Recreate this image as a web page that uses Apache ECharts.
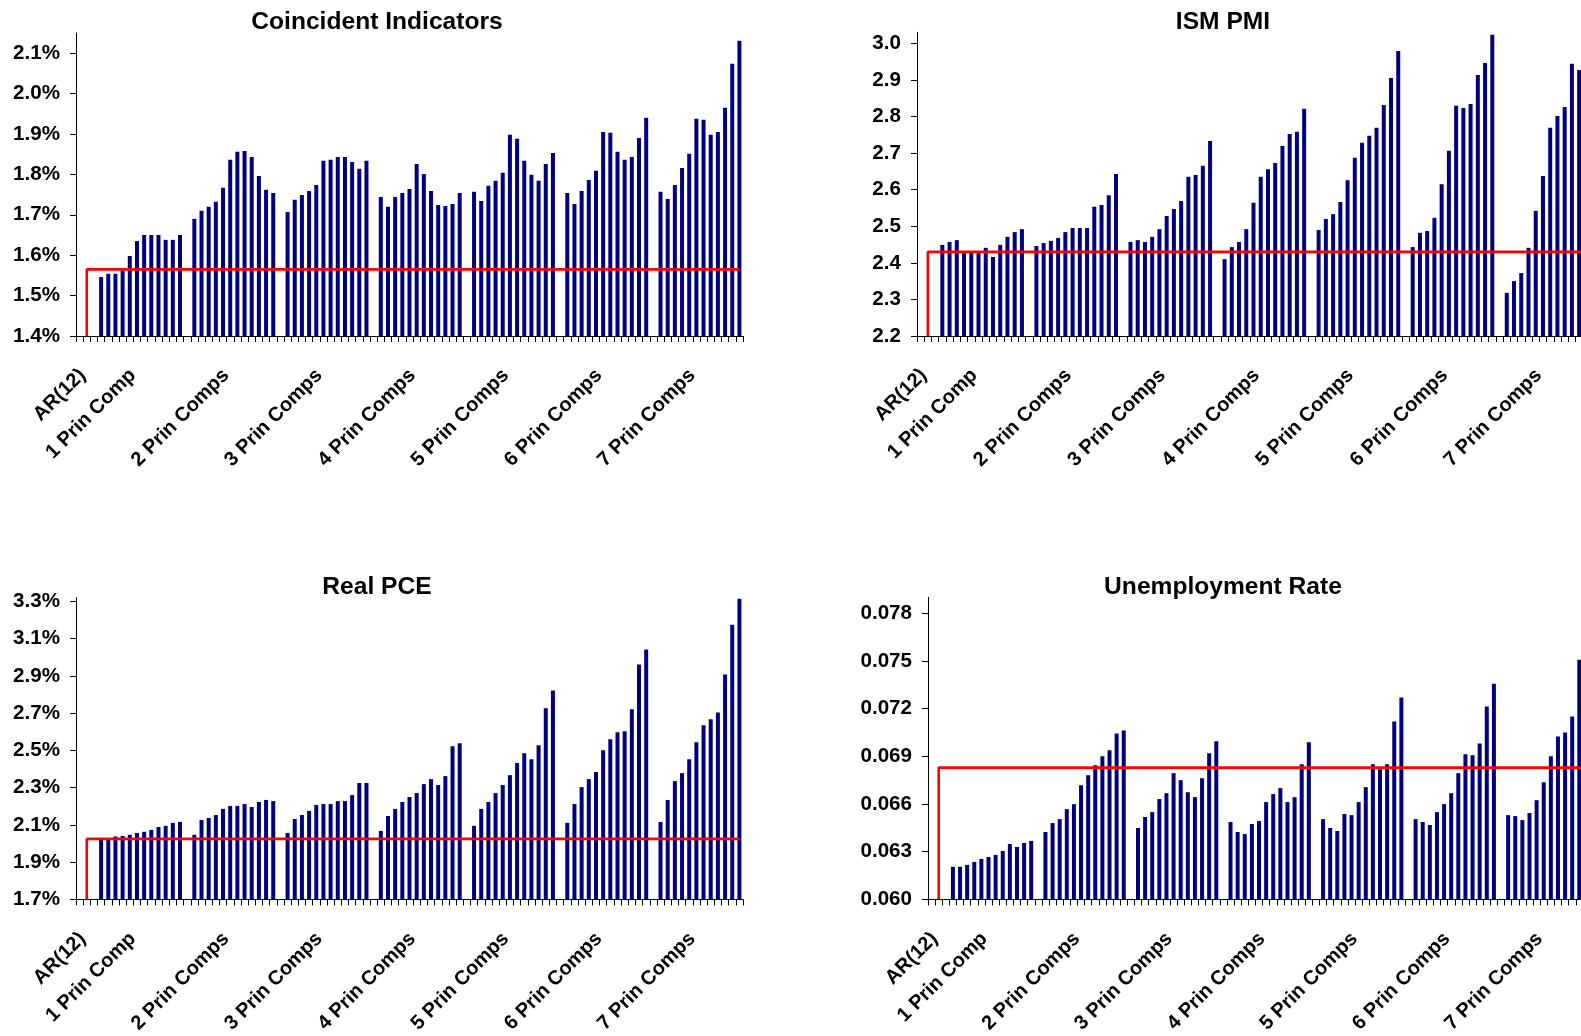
<!DOCTYPE html>
<html>
<head>
<meta charset="utf-8">
<title>Forecast RMSE by number of principal components</title>
<script src="https://cdn.jsdelivr.net/npm/echarts@6/dist/echarts.min.js"></script>
<style>
  html, body { margin: 0; padding: 0; background: #fff; overflow: hidden; }
  #chart { width: 1600px; height: 1036px; }
</style>
</head>
<body>
<div id="chart"></div>
<script>
// Group names on the category axis (label sits under the 6th bar of each group)
const groupLabels = ['1 Prin Comp', '2 Prin Comps', '3 Prin Comps', '4 Prin Comps',
                     '5 Prin Comps', '6 Prin Comps', '7 Prin Comps'];
const benchmarkLabel = 'AR(12)';

// ---- Coincident Indicators (percent) ----
const coincidentAR = 1.565;
const coincidentG1 = [1.546, 1.554, 1.554, 1.563, 1.598, 1.635, 1.650, 1.650, 1.650, 1.638, 1.638, 1.650];
const coincidentG2 = [1.690, 1.710, 1.720, 1.732, 1.767, 1.836, 1.856, 1.858, 1.843, 1.796, 1.762, 1.754];
const coincidentG3 = [1.707, 1.737, 1.749, 1.759, 1.774, 1.834, 1.836, 1.843, 1.843, 1.831, 1.814, 1.834];
const coincidentG4 = [1.744, 1.720, 1.744, 1.754, 1.764, 1.826, 1.801, 1.759, 1.724, 1.722, 1.727, 1.754];
const coincidentG5 = [1.757, 1.734, 1.772, 1.784, 1.804, 1.898, 1.888, 1.834, 1.799, 1.784, 1.826, 1.853];
const coincidentG6 = [1.754, 1.727, 1.759, 1.786, 1.809, 1.905, 1.903, 1.856, 1.836, 1.843, 1.890, 1.940];
const coincidentG7 = [1.757, 1.739, 1.774, 1.816, 1.851, 1.938, 1.935, 1.898, 1.905, 1.965, 2.074, 2.131];
const coincidentTicks = [1.4, 1.5, 1.6, 1.7, 1.8, 1.9, 2.0, 2.1];

// ---- ISM PMI ----
const ismAR = 2.430;
const ismG1 = [2.449, 2.457, 2.462, 2.428, 2.428, 2.428, 2.441, 2.416, 2.449, 2.471, 2.484, 2.492];
const ismG2 = [2.446, 2.454, 2.460, 2.468, 2.484, 2.495, 2.495, 2.495, 2.553, 2.558, 2.585, 2.643];
const ismG3 = [2.457, 2.462, 2.457, 2.471, 2.492, 2.528, 2.547, 2.569, 2.635, 2.640, 2.665, 2.733];
const ismG4 = [2.410, 2.443, 2.457, 2.492, 2.564, 2.635, 2.656, 2.673, 2.719, 2.752, 2.758, 2.821];
const ismG5 = [2.490, 2.520, 2.533, 2.566, 2.626, 2.687, 2.728, 2.747, 2.769, 2.831, 2.905, 2.979];
const ismG6 = [2.443, 2.482, 2.487, 2.523, 2.615, 2.706, 2.829, 2.823, 2.834, 2.913, 2.946, 3.023];
const ismG7 = [2.318, 2.350, 2.372, 2.441, 2.542, 2.637, 2.769, 2.801, 2.826, 2.944, 2.927, 2.960];
const ismTicks = [2.2, 2.3, 2.4, 2.5, 2.6, 2.7, 2.8, 2.9, 3.0];

// ---- Real PCE (percent) ----
const pceAR = 2.025;
const pceG1 = [2.025, 2.029, 2.038, 2.041, 2.047, 2.057, 2.063, 2.073, 2.089, 2.095, 2.111, 2.116];
const pceG2 = [2.047, 2.127, 2.137, 2.153, 2.186, 2.202, 2.202, 2.212, 2.196, 2.223, 2.234, 2.228];
const pceG3 = [2.057, 2.132, 2.153, 2.175, 2.207, 2.212, 2.212, 2.228, 2.228, 2.260, 2.325, 2.325];
const pceG4 = [2.068, 2.148, 2.186, 2.223, 2.250, 2.271, 2.319, 2.346, 2.314, 2.362, 2.523, 2.539];
const pceG5 = [2.095, 2.186, 2.223, 2.271, 2.314, 2.367, 2.432, 2.485, 2.453, 2.528, 2.726, 2.822];
const pceG6 = [2.111, 2.212, 2.303, 2.346, 2.384, 2.501, 2.560, 2.598, 2.603, 2.721, 2.961, 3.042];
const pceG7 = [2.116, 2.234, 2.335, 2.378, 2.453, 2.544, 2.635, 2.667, 2.704, 2.908, 3.175, 3.314];
const pceTicks = [1.7, 1.9, 2.1, 2.3, 2.5, 2.7, 2.9, 3.1, 3.3];

// ---- Unemployment Rate ----
const unempAR = 0.06829;
const unempG1 = [0.06205, 0.06205, 0.06217, 0.06236, 0.06255, 0.06267, 0.06280, 0.06305, 0.06349, 0.06330, 0.06355, 0.06368];
const unempG2 = [0.06424, 0.06480, 0.06505, 0.06568, 0.06599, 0.06718, 0.06781, 0.06844, 0.06900, 0.06938, 0.07044, 0.07063];
const unempG3 = [0.06449, 0.06518, 0.06549, 0.06631, 0.06668, 0.06794, 0.06750, 0.06674, 0.06643, 0.06762, 0.06919, 0.06994];
const unempG4 = [0.06487, 0.06424, 0.06411, 0.06474, 0.06493, 0.06612, 0.06662, 0.06700, 0.06612, 0.06643, 0.06850, 0.06988];
const unempG5 = [0.06505, 0.06449, 0.06430, 0.06537, 0.06530, 0.06612, 0.06706, 0.06850, 0.06819, 0.06850, 0.07119, 0.07270];
const unempG6 = [0.06505, 0.06487, 0.06468, 0.06549, 0.06599, 0.06668, 0.06794, 0.06913, 0.06906, 0.06981, 0.07213, 0.07357];
const unempG7 = [0.06530, 0.06524, 0.06499, 0.06543, 0.06624, 0.06737, 0.06900, 0.07025, 0.07050, 0.07151, 0.07508, 0.07650];
const unempTicks = [0.060, 0.063, 0.066, 0.069, 0.072, 0.075, 0.078];

// Category layout: [blank, AR(12), blank, group1 x12, blank, group2 x12, ..., group7 x12]
function buildCategories() {
  const cats = ['', benchmarkLabel, ''];
  groupLabels.forEach((name, g) => {
    for (let j = 0; j < 12; j++) cats.push(j === 5 ? name : '');
    if (g < groupLabels.length - 1) cats.push('');
  });
  return cats;
}
function buildBars(groups) {
  const out = [null, null, null];
  groups.forEach((vals, g) => {
    vals.forEach(v => out.push(v));
    if (g < groups.length - 1) out.push(null);
  });
  return out;
}
const categories = buildCategories();
const lastIndex = categories.length - 1;

const FONT = '"Liberation Sans", Arial, Helvetica, sans-serif';

const panels = [
  { title: 'Coincident Indicators', titleX: 372, titleY: 5,
    grid: { left: 76, top: 33, width: 667, height: 303 },
    min: 1.4, max: 2.15, ticks: coincidentTicks, fmt: v => v.toFixed(1) + '%',
    ar: coincidentAR,
    groups: [coincidentG1, coincidentG2, coincidentG3, coincidentG4, coincidentG5, coincidentG6, coincidentG7] },
  { title: 'ISM PMI', titleX: 1218, titleY: 5,
    grid: { left: 917, top: 32.3, width: 673, height: 303.7 },
    min: 2.2, max: 3.03, ticks: ismTicks, fmt: v => v.toFixed(1),
    ar: ismAR,
    groups: [ismG1, ismG2, ismG3, ismG4, ismG5, ismG6, ismG7] },
  { title: 'Real PCE', titleX: 372, titleY: 570,
    grid: { left: 76, top: 597.7, width: 667, height: 302.9 },
    min: 1.7, max: 3.32, ticks: pceTicks, fmt: v => v.toFixed(1) + '%',
    ar: pceAR,
    groups: [pceG1, pceG2, pceG3, pceG4, pceG5, pceG6, pceG7] },
  { title: 'Unemployment Rate', titleX: 1218, titleY: 570,
    grid: { left: 928, top: 597.3, width: 662, height: 303.4 },
    min: 0.060, max: 0.079, ticks: unempTicks, fmt: v => v.toFixed(3),
    ar: unempAR,
    groups: [unempG1, unempG2, unempG3, unempG4, unempG5, unempG6, unempG7] }
];

const option = {
  animation: false,
  backgroundColor: '#ffffff',
  title: [], grid: [], xAxis: [], yAxis: [], series: []
};

panels.forEach((p, i) => {
  option.title.push({
    text: p.title, left: p.titleX, top: p.titleY, textAlign: 'center',
    textStyle: { fontFamily: FONT, fontWeight: 'bold', fontSize: 24.6, color: '#000' }
  });
  option.grid.push(Object.assign({ containLabel: false }, p.grid));
  option.xAxis.push({
    type: 'category', gridIndex: i, data: categories, boundaryGap: true,
    axisLine: { show: true, lineStyle: { color: '#000', width: 1 } },
    axisTick: { show: true, interval: 0, length: 6, lineStyle: { color: '#000' } },
    axisLabel: { interval: 0, rotate: 45, margin: 32, padding: [0, 6, 0, 0], color: '#000',
                 fontFamily: FONT, fontWeight: 'bold', fontSize: 20 },
    splitLine: { show: false }
  });
  option.yAxis.push({
    type: 'value', gridIndex: i, min: p.min, max: p.max,
    axisLine: { show: true, lineStyle: { color: '#000', width: 1 } },
    axisTick: { show: true, length: 6, customValues: p.ticks, lineStyle: { color: '#000' } },
    axisLabel: { customValues: p.ticks, formatter: p.fmt, margin: 16, color: '#000',
                 fontFamily: FONT, fontWeight: 'bold', fontSize: 20.6 },
    splitLine: { show: false }
  });
  option.series.push({
    type: 'bar', xAxisIndex: i, yAxisIndex: i, barWidth: 4,
    itemStyle: { color: '#000080' }, data: buildBars(p.groups), z: 2
  });
  // AR(12) benchmark: rises from the axis floor at its category, then runs across
  option.series.push({
    type: 'line', xAxisIndex: i, yAxisIndex: i, symbol: 'none', z: 3,
    lineStyle: { color: '#ff0000', width: 2.6 },
    data: [[1, p.min], [1, p.ar], [lastIndex, p.ar]]
  });
});

const chart = echarts.init(document.getElementById('chart'), null, { renderer: 'canvas' });
chart.setOption(option);
</script>
</body>
</html>
